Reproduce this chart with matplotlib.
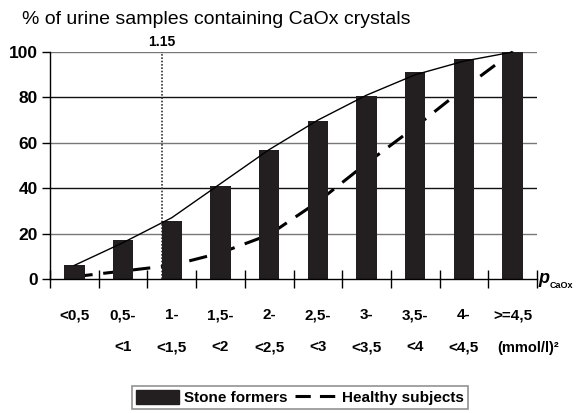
import matplotlib
matplotlib.use('Agg')
import matplotlib.pyplot as plt
from matplotlib.patches import Patch
from matplotlib.lines import Line2D

plt.rcParams['font.family'] = ['Liberation Sans', 'DejaVu Sans']

categories = ['<0,5', '0,5-\n<1', '1-\n<1,5', '1,5-\n<2', '2-\n<2,5', '2,5-\n<3',
              '3-\n<3,5', '3,5-\n<4', '4-\n<4,5', '>=4,5']
stone_formers = [6, 17, 25.5, 41, 57, 69.5, 80.5, 91, 97, 100]
stone_curve = [6, 16, 27, 42, 57, 70, 81, 90, 96, 100]
healthy = [1, 3.5, 6, 11.5, 19.5, 34, 51, 67, 84, 100]
threshold = 1.15
y_ticks = [0, 20, 40, 60, 80, 100]

fig = plt.figure(figsize=(5.77, 4.13), dpi=100)
ax = fig.add_axes([0.0867, 0.3245, 0.844, 0.5495])

x = list(range(len(categories)))

for i, yv in enumerate(y_ticks[1:]):
    ax.axhline(yv, color='#777777' if i % 2 == 0 else '#111111', lw=1, zorder=0)

ax.bar(x, stone_formers, width=0.42, color='#231f20', zorder=2)
ax.plot(x, stone_curve, color='black', lw=1, zorder=3, clip_on=False)
ax.plot(x, healthy, color='black', lw=2.2, dashes=(6, 3.5), zorder=1, clip_on=False)

# threshold position on category axis: boundary p=1 sits at 1.5, 0.5 per category
xt = 1.5 + (threshold - 1) * 2
ax.plot([xt, xt], [0, 100], color='#333333', lw=1.2, ls=(0, (1, 1)), zorder=1)
ax.text(xt, 101.5, '1.15', ha='center', va='bottom', fontsize=10, fontweight='bold')

ax.set_xlim(-0.5, 9.5)
ax.set_ylim(0, 100)
ax.set_yticks(y_ticks)
ax.set_yticklabels([str(v) for v in y_ticks], fontsize=12.5, fontweight='bold')
ax.tick_params(axis='y', length=6, width=1, pad=3)

ax.set_xticks(x)
ax.set_xticklabels(categories, fontsize=11, fontweight='bold', linespacing=2.65)
ax.set_xticks([i - 0.5 for i in range(len(categories) + 1)], minor=True)
ax.tick_params(axis='x', which='major', length=0, pad=21)
ax.tick_params(axis='x', which='minor', length=13, width=1, direction='inout')

for s in ['top', 'right']:
    ax.spines[s].set_visible(False)
ax.spines['left'].set_linewidth(1)
ax.spines['bottom'].set_linewidth(1)

ax.text(0.918, -0.305, '(mmol/l)²', transform=ax.transAxes, ha='left', va='center',
        fontsize=10.5, fontweight='bold')
ax.text(1.002, 0.0, 'p', transform=ax.transAxes, ha='left', va='center',
        fontsize=13, fontweight='bold', style='italic')
ax.text(1.025, -0.028, 'CaOx', transform=ax.transAxes, ha='left', va='center',
        fontsize=6.5, fontweight='bold')

fig.text(0.038, 0.952, '% of urine samples containing CaOx crystals', fontsize=14,
         va='center')

handles = [Patch(facecolor='#231f20', edgecolor='#231f20'),
           Line2D([0], [0], color='black', lw=2.2, dashes=(5, 3))]
leg = fig.legend(handles, ['Stone formers', 'Healthy subjects'], loc='center',
                 bbox_to_anchor=(0.52, 0.038), ncol=2, fancybox=False, frameon=True,
                 edgecolor='#777777', prop={'weight': 'bold', 'size': 11},
                 handlelength=2.8, handleheight=1.1, handletextpad=0.3,
                 columnspacing=0.5, borderpad=0.25, borderaxespad=0)
leg.get_frame().set_linewidth(1.2)

fig.savefig('out.png', dpi=100)
